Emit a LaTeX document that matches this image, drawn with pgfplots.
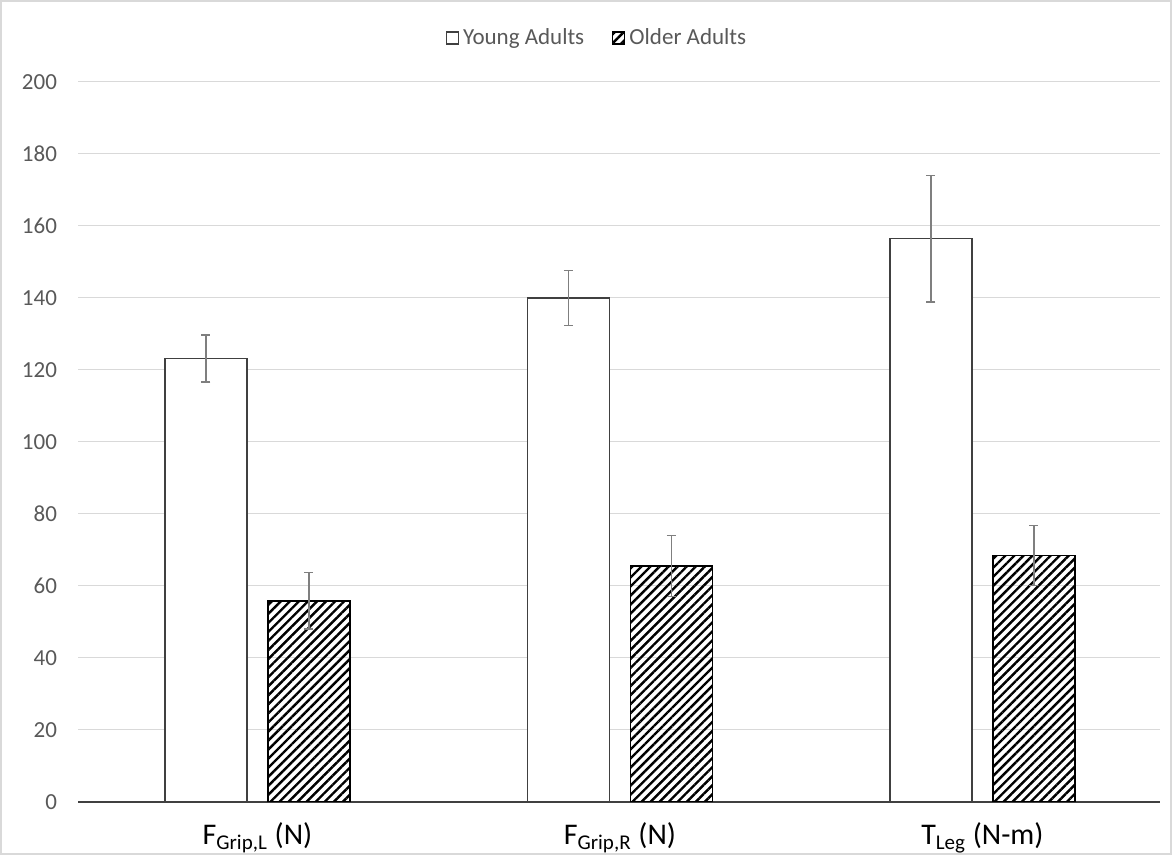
\documentclass[border=0pt]{standalone}
\usepackage{fontspec}
\setmainfont{Carlito}
\usepackage{pgfplots}
\pgfplotsset{compat=1.18}
\usepackage{pgfplotstable}
\usetikzlibrary{patterns.meta}
\definecolor{txtgray}{HTML}{595959}
\definecolor{gridgray}{HTML}{D9D9D9}
\definecolor{errgray}{HTML}{7F7F7F}
\definecolor{bargray}{HTML}{404040}

\pgfplotstableread{
x xy young yerr xo older oerr
0 -0.142 123.1 6.5 0.142 55.8 7.8
1 0.858 139.9 7.6 1.142 65.5 8.5
2 1.858 156.4 17.6 2.142 68.4 8.3
}\datatable

\begin{document}
\begin{tikzpicture}
\useasboundingbox (0pt,0pt) rectangle (586pt,-427.5pt);
\fill[white] (0pt,0pt) rectangle (586pt,-427.5pt);
\draw[gridgray, line width=0.75pt] (0.5pt,-0.5pt) rectangle (585.5pt,-427pt);
\begin{axis}[
  at={(39pt,-400.85pt)}, anchor=south west,
  scale only axis, width=541pt, height=360pt,
  xmin=-0.495, xmax=2.49, ymin=0, ymax=200,
  ytick={0,20,...,200},
  xtick={0,1,2},
  xticklabels={F\textsubscript{Grip,L} (N), F\textsubscript{Grip,R} (N), T\textsubscript{Leg} (N-m)},
  axis x line*=bottom, axis y line*=left,
  y axis line style={draw=none},
  x axis line style={bargray, line width=1pt, -},
  major tick length=0pt,
  ymajorgrids, grid style={gridgray, line width=0.75pt},
  /pgf/number format/assume math mode=true,
  yticklabel style={font=\fontsize{11.5}{13}\selectfont, text=txtgray, xshift=-7pt},
  xticklabel style={font=\fontsize{15}{18}\selectfont, text=black, yshift=-7pt},
  legend style={at={(0.5,1)}, anchor=center, xshift=-10.5pt, yshift=21.85pt,
    draw=none, fill=none, legend columns=2,
    font=\fontsize{11.5}{13}\selectfont, text=txtgray,
    /tikz/every even column/.append style={column sep=12pt}},
  legend image code/.code={\draw[#1, line width=0.6pt] (0pt,-3pt) rectangle (6pt,3pt);},
]
\addplot[ybar, bar width=0.226, bar shift=0, draw=bargray, line width=0.75pt, fill=white,
  error bars/.cd, y dir=both, y explicit, error mark=-,
  error bar style={errgray, line width=0.75pt},
  error mark options={rotate=90, errgray, line width=0.75pt, mark size=2.25pt}]
  table[x=xy, y=young, y error=yerr] {\datatable};
\addlegendentry{Young Adults}
\addplot[ybar, bar width=0.226, bar shift=0, draw=black, line width=0.75pt,
  pattern={Lines[angle=45, distance=3.2pt, line width=1.2pt]}, pattern color=black,
  error bars/.cd, y dir=both, y explicit, error mark=-,
  error bar style={errgray, line width=0.75pt},
  error mark options={rotate=90, errgray, line width=0.75pt, mark size=2.25pt}]
  table[x=xo, y=older, y error=oerr] {\datatable};
\addlegendentry{Older Adults}
\end{axis}
\end{tikzpicture}
\end{document}
